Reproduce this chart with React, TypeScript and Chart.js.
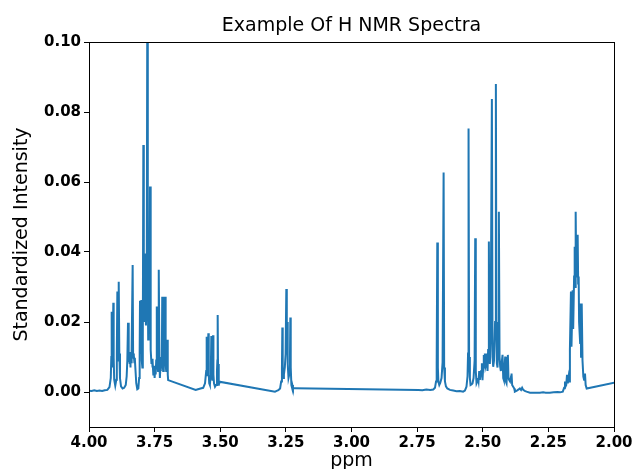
import React, { useEffect, useRef } from 'react';
import { Chart, registerables } from 'chart.js';

Chart.register(...registerables);

const TITLE = 'Example Of H NMR Spectra';
const X_LABEL = 'ppm';
const Y_LABEL = 'Standardized Intensity';
const X_TICKS = [4.0, 3.75, 3.5, 3.25, 3.0, 2.75, 2.5, 2.25, 2.0];
const Y_TICKS = [0.0, 0.02, 0.04, 0.06, 0.08, 0.1];

// [ppm, standardized intensity]
const regionA: [number, number][] = [
  [4.002, 0.0004], [3.990, 0.0003], [3.980, 0.0005], [3.970, 0.0003], [3.960, 0.0004],
  [3.950, 0.0003], [3.940, 0.0005], [3.930, 0.0006], [3.922, 0.0014], [3.917, 0.0040],
  [3.915, 0.0100], [3.9136, 0.0229], [3.912, 0.0090], [3.9104, 0.0070], [3.9088, 0.0110],
  [3.9074, 0.0255], [3.906, 0.0100], [3.904, 0.0035], [3.900, 0.0018], [3.896, 0.0035],
  [3.894, 0.0110], [3.892, 0.0287], [3.8905, 0.0110], [3.8888, 0.0090], [3.8875, 0.0140],
  [3.886, 0.0315], [3.8845, 0.0110], [3.882, 0.0040], [3.878, 0.0016], [3.872, 0.0010],
  [3.866, 0.0012], [3.860, 0.0020], [3.8565, 0.0045], [3.854, 0.0090], [3.8514, 0.0198],
  [3.8495, 0.0095], [3.848, 0.0085], [3.8463, 0.0114], [3.845, 0.0080], [3.8438, 0.0105],
  [3.8425, 0.0070], [3.8413, 0.0110], [3.840, 0.0095], [3.8387, 0.0082], [3.8365, 0.0120],
  [3.8337, 0.0363], [3.832, 0.0110], [3.830, 0.0095], [3.8286, 0.0105], [3.827, 0.0085],
  [3.8255, 0.0098], [3.8235, 0.0070], [3.820, 0.0025], [3.816, 0.0008], [3.812, 0.0010],
  [3.809, 0.0040], [3.807, 0.0110], [3.8057, 0.0261], [3.804, 0.0110], [3.802, 0.0130],
  [3.8006, 0.0263], [3.799, 0.0090], [3.7968, 0.0070], [3.795, 0.0150], [3.793, 0.0706],
  [3.7912, 0.0240], [3.7895, 0.0380], [3.788, 0.0200], [3.7867, 0.0396], [3.785, 0.0250],
  [3.783, 0.0190], [3.780, 0.0320], [3.7778, 0.1150], [3.776, 0.0300], [3.7745, 0.0150],
  [3.773, 0.0250], [3.7714, 0.0340], [3.7695, 0.0250], [3.7676, 0.0587], [3.766, 0.0200],
  [3.764, 0.0120], [3.762, 0.0080], [3.760, 0.0095], [3.7587, 0.0070], [3.757, 0.0090],
  [3.755, 0.0050], [3.7524, 0.0075], [3.750, 0.0040], [3.748, 0.0065], [3.746, 0.0050],
  [3.744, 0.0090], [3.7425, 0.0120], [3.741, 0.0244], [3.739, 0.0080], [3.737, 0.0060],
  [3.735, 0.0120], [3.7335, 0.0349], [3.7318, 0.0100], [3.730, 0.0040], [3.7285, 0.0063],
  [3.7265, 0.0080], [3.7244, 0.0070], [3.7225, 0.0100], [3.721, 0.0272], [3.7195, 0.0080],
  [3.7175, 0.0060], [3.7158, 0.0090], [3.7145, 0.0272], [3.713, 0.0080], [3.711, 0.0090],
  [3.7095, 0.0272], [3.708, 0.0080], [3.706, 0.0060], [3.7045, 0.0070], [3.703, 0.0120],
  [3.7016, 0.0149], [3.700, 0.0050], [3.6985, 0.0034],
];

const regionB: [number, number][] = [
  [3.5936, 0.0006], [3.585, 0.0008], [3.575, 0.0010], [3.565, 0.0012], [3.558, 0.0025],
  [3.5535, 0.0060], [3.5517, 0.0158], [3.550, 0.0060], [3.549, 0.0045], [3.547, 0.0070],
  [3.5454, 0.0168], [3.5438, 0.0050], [3.542, 0.0025], [3.5395, 0.0020], [3.537, 0.0045],
  [3.5355, 0.0080], [3.534, 0.0160], [3.5325, 0.0050], [3.530, 0.0035], [3.529, 0.0060],
  [3.5276, 0.0162], [3.526, 0.0050], [3.5238, 0.0025], [3.520, 0.0015], [3.516, 0.0020],
  [3.5125, 0.0060], [3.511, 0.0090], [3.5098, 0.0220], [3.5085, 0.0080], [3.5065, 0.0020],
  [3.505, 0.0018], [3.5035, 0.0030], [3.501, 0.0029],
];

const regionC: [number, number][] = [
  [3.2914, 0.0001], [3.285, 0.0003], [3.2787, 0.0005], [3.272, 0.0010], [3.268, 0.0030],
  [3.265, 0.0070], [3.2635, 0.0184], [3.262, 0.0070], [3.2597, 0.0040], [3.2575, 0.0050],
  [3.254, 0.0070], [3.251, 0.0110], [3.2483, 0.0294], [3.2465, 0.0120], [3.245, 0.0200],
  [3.243, 0.0080], [3.240, 0.0040], [3.237, 0.0050], [3.2345, 0.0090], [3.233, 0.0213],
  [3.2315, 0.0070], [3.229, 0.0020], [3.227, 0.0014], [3.2254, 0.0020], [3.223, 0.0012],
  [3.220, 0.0011], [3.215, 0.0011],
];

const regionD: [number, number][] = [
  [2.745, 0.0006], [2.730, 0.0005], [2.715, 0.0007], [2.700, 0.0006], [2.6884, 0.0007],
  [2.682, 0.0012], [2.678, 0.0030], [2.6755, 0.0080], [2.6732, 0.0427], [2.671, 0.0070],
  [2.669, 0.0030], [2.6656, 0.0020], [2.662, 0.0026], [2.657, 0.0040], [2.653, 0.0085],
  [2.6491, 0.0627], [2.647, 0.0070], [2.644, 0.0030], [2.6402, 0.0016], [2.635, 0.0010],
  [2.625, 0.0006], [2.6124, 0.0004], [2.600, 0.0002], [2.587, 0.0003], [2.575, 0.0001],
  [2.568, 0.0004], [2.562, 0.0015], [2.558, 0.0045], [2.556, 0.0110], [2.5541, 0.0753],
  [2.552, 0.0100], [2.549, 0.0040], [2.5465, 0.0020], [2.542, 0.0022], [2.5389, 0.0025],
  [2.535, 0.0040], [2.531, 0.0090], [2.5287, 0.0439], [2.5265, 0.0060], [2.5237, 0.0025],
  [2.521, 0.0030], [2.5186, 0.0040], [2.516, 0.0030], [2.5135, 0.0060], [2.511, 0.0035],
  [2.5084, 0.0050], [2.506, 0.0060], [2.5033, 0.0082], [2.501, 0.0034], [2.4983, 0.0070],
  [2.496, 0.0106], [2.4945, 0.0070], [2.4919, 0.0110], [2.4895, 0.0072], [2.4868, 0.0080],
  [2.4845, 0.0110], [2.4818, 0.0060], [2.4795, 0.0120], [2.4767, 0.0430], [2.4745, 0.0090],
  [2.4729, 0.0080], [2.470, 0.0150], [2.4652, 0.0837], [2.4627, 0.0100], [2.4602, 0.0072],
  [2.457, 0.0090], [2.453, 0.0200], [2.450, 0.0880], [2.448, 0.0200], [2.4462, 0.0082],
  [2.4437, 0.0070], [2.441, 0.0150], [2.4386, 0.0515], [2.436, 0.0100], [2.4335, 0.0072],
  [2.431, 0.0060], [2.4284, 0.0080], [2.4246, 0.0106], [2.422, 0.0040], [2.4195, 0.0034],
  [2.417, 0.0070], [2.4144, 0.0101], [2.412, 0.0030], [2.4094, 0.0025], [2.407, 0.0060],
  [2.4043, 0.0106], [2.402, 0.0040], [2.3992, 0.0034], [2.396, 0.0030], [2.392, 0.0045],
  [2.3903, 0.0053], [2.388, 0.0020], [2.384, 0.0015], [2.380, 0.0010], [2.3776, 0.0001],
  [2.370, 0.0004], [2.362, 0.0008], [2.3586, 0.0010], [2.354, 0.0006], [2.350, 0.0012],
  [2.3459, 0.0006], [2.340, 0.0003], [2.3332, 0.0001], [2.320, -0.0002], [2.3078, -0.0002],
  [2.295, -0.0002], [2.2825, -0.0002], [2.270, -0.0001], [2.260, -0.0002], [2.2444, -0.0002],
];

const regionE: [number, number][] = [
  [2.230, -0.0001], [2.215, 0.0000], [2.2057, -0.0001], [2.195, 0.0001], [2.190, 0.0012],
  [2.1867, 0.0030], [2.1845, 0.0016], [2.182, 0.0020], [2.179, 0.0049], [2.176, 0.0025],
  [2.1727, 0.0044], [2.170, 0.0030], [2.168, 0.0120], [2.164, 0.0287], [2.162, 0.0129],
  [2.160, 0.0200], [2.1575, 0.0291], [2.1555, 0.0180], [2.152, 0.0330], [2.1498, 0.0415],
  [2.1478, 0.0300], [2.146, 0.0515], [2.144, 0.0349], [2.1422, 0.0430], [2.140, 0.0330],
  [2.1384, 0.0449], [2.1365, 0.0310], [2.1346, 0.0330], [2.133, 0.0200], [2.129, 0.0140],
  [2.127, 0.0253], [2.1255, 0.0101], [2.124, 0.0130], [2.122, 0.0253], [2.120, 0.0090],
  [2.1168, 0.0044], [2.114, 0.0035], [2.1105, 0.0053], [2.108, 0.0020], [2.1041, 0.0010],
  [1.995, 0.0027],
];

const FONT = "'DejaVu Sans', sans-serif";

export default function App() {
  const ref = useRef<HTMLCanvasElement | null>(null);

  useEffect(() => {
    const canvas = ref.current;
    if (!canvas) return;
    const points = [...regionA, ...regionB, ...regionC, ...regionD, ...regionE].map(([x, y]) => ({ x, y }));

    const framePlugin = {
      id: 'frame',
      afterDraw(chart: any) {
        const { ctx, chartArea } = chart;
        ctx.save();
        ctx.strokeStyle = '#000';
        ctx.lineWidth = 1;
        ctx.strokeRect(
          Math.round(chartArea.left) + 0.5,
          Math.round(chartArea.top) + 0.5,
          Math.round(chartArea.right - chartArea.left),
          Math.round(chartArea.bottom - chartArea.top)
        );
        ctx.restore();
      },
    };

    const chart = new Chart(canvas, {
      type: 'line',
      data: {
        datasets: [
          {
            data: points,
            borderColor: '#1f77b4',
            borderWidth: 2,
            pointRadius: 0,
            tension: 0,
            fill: false,
          },
        ],
      },
      options: {
        responsive: false,
        animation: false,
        maintainAspectRatio: false,
        layout: { padding: { left: 0, right: 21, top: 0, bottom: 0 } },
        plugins: {
          legend: { display: false },
          tooltip: { enabled: false },
          title: {
            display: true,
            text: TITLE,
            fullSize: false,
            color: '#000',
            font: { family: FONT, size: 19, weight: 'normal' },
            padding: { top: 15, bottom: 4.2 },
          },
        },
        scales: {
          x: {
            type: 'linear',
            reverse: true,
            min: 2,
            max: 4,
            afterBuildTicks: (scale: any) => {
              scale.ticks = X_TICKS.map((v) => ({ value: v }));
            },
            afterFit: (scale: any) => {
              scale.height = 42;
            },
            ticks: {
              color: '#000',
              padding: 2,
              maxRotation: 0,
              autoSkip: false,
              font: { family: FONT, size: 15, weight: 'bold' },
              callback: (v: any) => Number(v).toFixed(2),
            },
            grid: { drawOnChartArea: false, drawTicks: true, tickLength: 5, color: '#000' },
            border: { display: true, color: '#000', width: 1 },
            title: {
              display: true,
              text: X_LABEL,
              color: '#000',
              font: { family: FONT, size: 19, weight: 'normal' },
              padding: { top: 0, bottom: -3 },
            },
          },
          y: {
            type: 'linear',
            min: -0.01,
            max: 0.1,
            afterBuildTicks: (scale: any) => {
              scale.ticks = Y_TICKS.map((v) => ({ value: v }));
            },
            afterFit: (scale: any) => {
              scale.width = 89;
            },
            ticks: {
              color: '#000',
              padding: 3,
              autoSkip: false,
              font: { family: FONT, size: 15, weight: 'bold' },
              callback: (v: any) => Number(v).toFixed(2),
            },
            grid: { drawOnChartArea: false, drawTicks: true, tickLength: 5, color: '#000' },
            border: { display: true, color: '#000', width: 1 },
            title: {
              display: true,
              text: Y_LABEL,
              color: '#000',
              font: { family: FONT, size: 19, weight: 'normal' },
              padding: { top: 11, bottom: 0 },
            },
          },
        },
      },
      plugins: [framePlugin],
    } as any);

    return () => chart.destroy();
  }, []);

  return (
    <div style={{ position: 'fixed', left: 0, top: 0, width: 635, height: 469, background: '#fff' }}>
      <canvas ref={ref} width={635} height={469} style={{ display: 'block', width: 635, height: 469 }} />
    </div>
  );
}
